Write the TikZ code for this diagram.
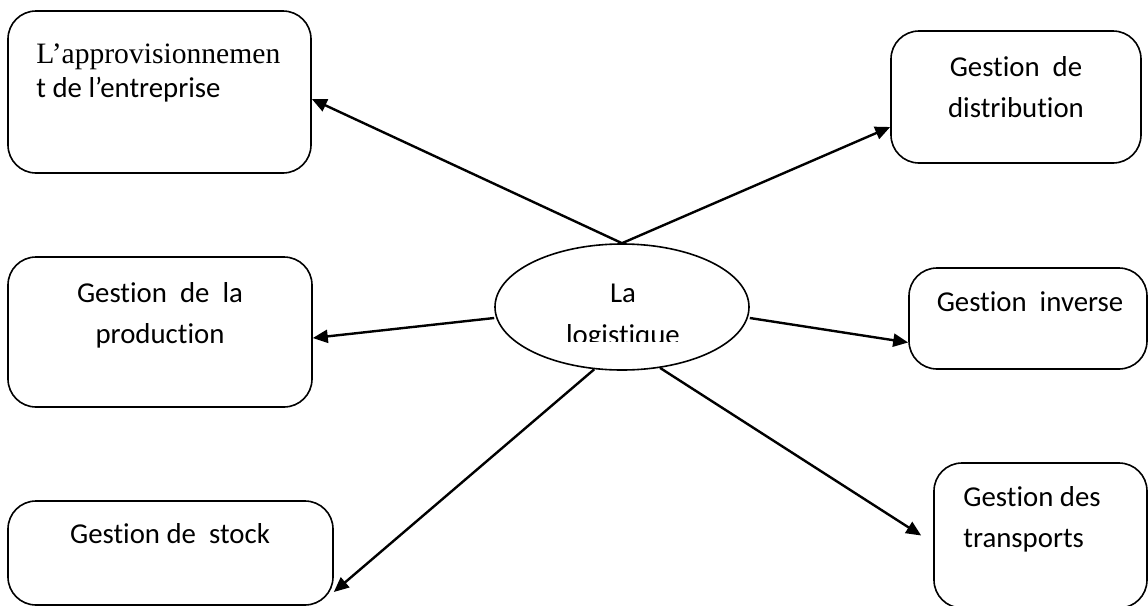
\documentclass[tikz,border=0pt]{standalone}
\usepackage{fontspec}
\setmainfont{Carlito}[Ligatures=NoCommon]
\newfontfamily\timesfont{Liberation Serif}
\usetikzlibrary{positioning,calc,shapes.geometric,arrows.meta}

\begin{document}
\begin{tikzpicture}[x=0.5pt,y=-0.5pt]
        \tikzset{
            bloc/.style={draw, rounded corners=14pt, line width=0.8pt},
            texte/.style={font=\fontsize{14.4pt}{20.5pt}\selectfont, inner sep=0pt, align=center, anchor=base},
            fleche/.style={-{Triangle[length=7.5pt,width=6.5pt]}, line width=1.2pt}
        }
        \useasboundingbox (0,0) rectangle (1148,606);
        % les cadres
        \node[bloc, minimum width=151.5pt, minimum height=81pt] (A) at (159.5,92) {};
        \node[bloc, minimum width=125pt, minimum height=66pt] (B) at (1016,97) {};
        \node[bloc, minimum width=152pt, minimum height=75pt] (C) at (160,332) {};
        \node[draw, ellipse, line width=0.8pt, minimum width=127pt, minimum height=63pt] (D) at (622,307) {};
        \node[bloc, minimum width=119pt, minimum height=50.5pt] (E) at (1028,318.5) {};
        \node[bloc, minimum width=162.5pt, minimum height=52pt] (F) at (170.5,553) {};
        \node[bloc, minimum width=106.5pt, minimum height=72.5pt] (G) at (1040.5,535.5) {};
        % les textes (base = derniere ligne)
        \node[texte, anchor=base west, font=\fontsize{14.8pt}{20.5pt}\selectfont] (tA1) at (36,63) {\timesfont L’approvisionnemen};
        \node[texte, anchor=base west] (tA2) at (36,97) {t de l’entreprise};
        \node[texte] (tB) at (1016,117) {Gestion~ de\\distribution};
        \node[texte] (tC) at (160,343) {Gestion~ de~ la\\production};
        \begin{scope}
            \clip (480,250) rectangle (770,341);
            \node[texte, font=\fontsize{14.4pt}{21pt}\selectfont] (tD) at (623,344) {La\\logistique};
        \end{scope}
        \node[texte] (tE) at (1030,311) {Gestion~ inverse};
        \node[texte] (tF) at (170,543) {Gestion de~ stock};
        \node[texte, anchor=base west, align=left] (tG) at (963,547) {Gestion des\\transports};
        % les fleches
        \draw[fleche] (D.north) -- ([yshift=-3.5pt]A.east);
        \draw[fleche] (D.north) -- ([yshift=-15pt]B.west);
        \draw[fleche] ([yshift=-5.5pt]D.west) -- ([yshift=-3pt]C.east);
        \draw[fleche] ([yshift=-5.5pt]D.east) -- ([yshift=-12pt]E.west);
        \draw[fleche] (D.246) -- ([yshift=-19.5pt]F.east);
        \draw[fleche] (D.302) -- ([xshift=-6pt]G.west);
\end{tikzpicture}
\end{document}
